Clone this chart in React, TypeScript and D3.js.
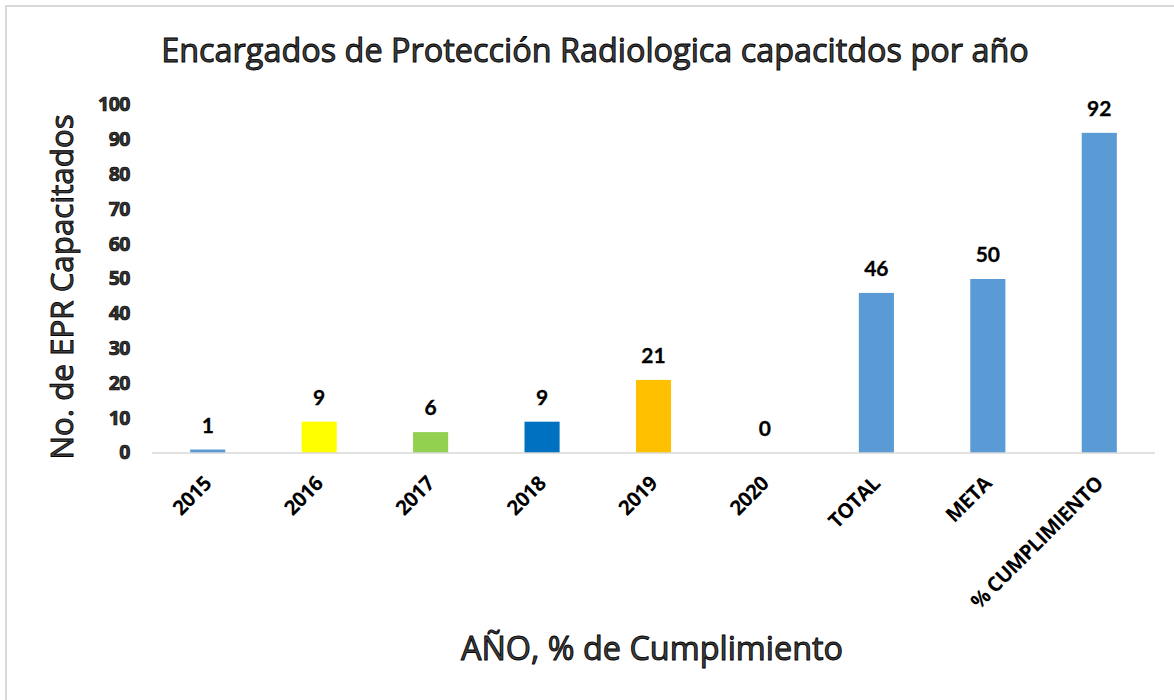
import React, { useRef, useEffect } from 'react';
import * as d3 from 'd3';

const categories = ['2015', '2016', '2017', '2018', '2019', '2020', 'TOTAL', 'META', '% CUMPLIMIENTO'];
const values = [1, 9, 6, 9, 21, 0, 46, 50, 92];
const barColors = ['#5B9BD5', '#FFFF00', '#92D050', '#0070C0', '#FFC000', '#5B9BD5', '#5B9BD5', '#5B9BD5', '#5B9BD5'];
const yTicks = [0, 10, 20, 30, 40, 50, 60, 70, 80, 90, 100];

const chartTitle = 'Encargados de Protección Radiologica capacitdos por año';
const yTitle = 'No. de EPR Capacitados';
const xTitle = 'AÑO, % de Cumplimiento';

function App() {
    const ref = useRef(null);

    useEffect(() => {
        const node = ref.current;
        node.querySelectorAll('*').forEach(n => n.remove());
        const svg = d3.select(node);

        const font = '"Open Sans", Lato, sans-serif';
        const labelFont = 'Lato, "Open Sans", sans-serif';
        const margin = { left: 152, right: 1155, top: 105, bottom: 453 };

        // frame (only top & left edges show in the picture)
        svg.append('rect')
            .attr('x', 6).attr('y', 6)
            .attr('width', 1300).attr('height', 800)
            .attr('fill', '#fff')
            .attr('stroke', '#d9d9d9')
            .attr('stroke-width', 2);

        const x = d3.scaleBand()
            .domain(categories)
            .range([margin.left, margin.right])
            .paddingInner(0.685)
            .paddingOuter(0.3425);

        const y = d3.scaleLinear()
            .domain([0, 100])
            .range([margin.bottom, margin.top]);

        // title
        svg.append('text')
            .attr('x', 595).attr('y', 62)
            .attr('text-anchor', 'middle')
            .attr('font-family', font)
            .attr('font-size', 32.4)
            .attr('fill', '#404040')
            .attr('stroke', '#000')
            .attr('stroke-width', 0.9)
            .text(chartTitle);

        // y axis labels
        const yAxis = d3.axisLeft(y).tickValues(yTicks).tickSize(0).tickPadding(0);
        const gy = svg.append('g')
            .attr('transform', 'translate(130,0)')
            .call(yAxis);
        gy.select('.domain').remove();
        gy.selectAll('text')
            .attr('font-family', font)
            .attr('font-size', 19.5)
            .attr('font-weight', 'bold')
            .attr('letter-spacing', -0.5)
            .attr('fill', '#333')
            .attr('stroke', '#000')
            .attr('stroke-width', 0.7)
            .attr('dy', '0.3em');

        // bars
        svg.append('g')
            .selectAll('rect')
            .data(values)
            .join('rect')
            .attr('x', (d, i) => x(categories[i]))
            .attr('y', d => y(d))
            .attr('width', x.bandwidth())
            .attr('height', d => y(0) - y(d))
            .attr('fill', (d, i) => barColors[i]);

        // baseline
        svg.append('line')
            .attr('x1', margin.left).attr('x2', margin.right)
            .attr('y1', y(0)).attr('y2', y(0))
            .attr('stroke', '#d9d9d9')
            .attr('stroke-width', 1.5);

        // data labels
        svg.append('g')
            .selectAll('text')
            .data(values)
            .join('text')
            .attr('x', (d, i) => x(categories[i]) + x.bandwidth() / 2)
            .attr('y', d => y(d) - 17)
            .attr('text-anchor', 'middle')
            .attr('font-family', labelFont)
            .attr('font-size', 21)
            .attr('font-weight', 'bold')
            .attr('fill', '#000')
            .attr('stroke', '#000')
            .attr('stroke-width', 0.3)
            .text(d => d);

        // x category labels
        svg.append('g')
            .selectAll('text')
            .data(categories)
            .join('text')
            .attr('transform', d => `translate(${x(d) + x.bandwidth() / 2 + 5},485) rotate(-45)`)
            .attr('text-anchor', 'end')
            .attr('font-family', font)
            .attr('font-size', 20.5)
            .attr('font-weight', 'bold')
            .attr('letter-spacing', -0.6)
            .attr('fill', '#000')
            .text(d => d);

        // axis titles
        svg.append('text')
            .attr('transform', 'translate(73,287) rotate(-90)')
            .attr('text-anchor', 'middle')
            .attr('font-family', font)
            .attr('font-size', 31.3)
            .attr('fill', '#404040')
            .attr('stroke', '#000')
            .attr('stroke-width', 0.9)
            .text(yTitle);

        svg.append('text')
            .attr('x', 652).attr('y', 660)
            .attr('text-anchor', 'middle')
            .attr('font-family', font)
            .attr('font-size', 32.4)
            .attr('fill', '#404040')
            .attr('stroke', '#000')
            .attr('stroke-width', 0.9)
            .text(xTitle);
    }, []);

    return (
        <svg ref={ref} width="1174" height="700"
            style={{ position: 'absolute', left: 0, top: 0, background: '#fff' }}></svg>
    );
}

export default App;
